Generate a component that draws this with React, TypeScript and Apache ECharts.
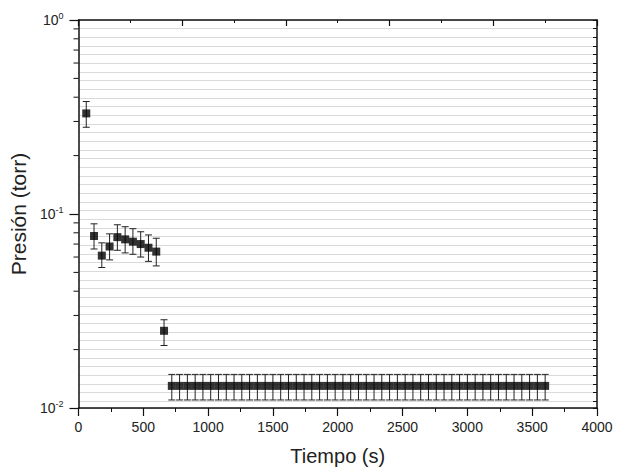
import React, { useEffect, useRef } from "react";
import * as echarts from "echarts";

// Time (s)
const times = [
  60, 120, 180, 240, 300, 360, 420, 480, 540, 600, 660,
  720, 780, 840, 900, 960, 1020, 1080, 1140, 1200, 1260, 1320, 1380, 1440, 1500,
  1560, 1620, 1680, 1740, 1800, 1860, 1920, 1980, 2040, 2100, 2160, 2220, 2280, 2340,
  2400, 2460, 2520, 2580, 2640, 2700, 2760, 2820, 2880, 2940, 3000, 3060, 3120, 3180,
  3240, 3300, 3360, 3420, 3480, 3540, 3600,
];
// Pressure (torr)
const pressures = [
  0.33, 0.077, 0.061, 0.068, 0.076, 0.074, 0.072, 0.070, 0.067, 0.064, 0.025,
  0.013, 0.013, 0.013, 0.013, 0.013, 0.013, 0.013, 0.013, 0.013, 0.013, 0.013, 0.013, 0.013, 0.013,
  0.013, 0.013, 0.013, 0.013, 0.013, 0.013, 0.013, 0.013, 0.013, 0.013, 0.013, 0.013, 0.013, 0.013,
  0.013, 0.013, 0.013, 0.013, 0.013, 0.013, 0.013, 0.013, 0.013, 0.013, 0.013, 0.013, 0.013, 0.013,
  0.013, 0.013, 0.013, 0.013, 0.013, 0.013, 0.013,
];
// Error bar upper ends
const errHigh = [
  0.38, 0.089, 0.071, 0.079, 0.088, 0.086, 0.084, 0.081, 0.078, 0.075, 0.0285,
  0.0149, 0.0149, 0.0149, 0.0149, 0.0149, 0.0149, 0.0149, 0.0149, 0.0149, 0.0149, 0.0149, 0.0149, 0.0149, 0.0149,
  0.0149, 0.0149, 0.0149, 0.0149, 0.0149, 0.0149, 0.0149, 0.0149, 0.0149, 0.0149, 0.0149, 0.0149, 0.0149, 0.0149,
  0.0149, 0.0149, 0.0149, 0.0149, 0.0149, 0.0149, 0.0149, 0.0149, 0.0149, 0.0149, 0.0149, 0.0149, 0.0149, 0.0149,
  0.0149, 0.0149, 0.0149, 0.0149, 0.0149, 0.0149, 0.0149,
];
// Error bar lower ends
const errLow = [
  0.28, 0.066, 0.053, 0.058, 0.065, 0.063, 0.062, 0.060, 0.057, 0.054, 0.021,
  0.011, 0.011, 0.011, 0.011, 0.011, 0.011, 0.011, 0.011, 0.011, 0.011, 0.011, 0.011, 0.011, 0.011,
  0.011, 0.011, 0.011, 0.011, 0.011, 0.011, 0.011, 0.011, 0.011, 0.011, 0.011, 0.011, 0.011, 0.011,
  0.011, 0.011, 0.011, 0.011, 0.011, 0.011, 0.011, 0.011, 0.011, 0.011, 0.011, 0.011, 0.011, 0.011,
  0.011, 0.011, 0.011, 0.011, 0.011, 0.011, 0.011,
];
// Log-axis minor tick values (2..9 per decade)
const logMinorTicks = [
  0.02, 0.03, 0.04, 0.05, 0.06, 0.07, 0.08, 0.09,
  0.2, 0.3, 0.4, 0.5, 0.6, 0.7, 0.8, 0.9,
];

const FONT = "Liberation Sans, Arial, sans-serif";
const AXIS_COLOR = "#111";

export default function App() {
  const ref = useRef<HTMLDivElement>(null);

  useEffect(() => {
    if (!ref.current) return;
    const chart = echarts.init(ref.current, undefined, { renderer: "svg" });

    const points = times.map((t, i) => [t, pressures[i]]);
    const bars = times.map((t, i) => [t, errLow[i], errHigh[i]]);
    const minorData = logMinorTicks.map((v) => [0, v]);

    const axisLine = { show: true, onZero: false, lineStyle: { color: AXIS_COLOR, width: 1.5 } };

    chart.setOption({
      animation: false,
      backgroundColor: "#fff",
      grid: { left: 76, right: 23, top: 20, bottom: 64 },
      xAxis: [
        {
          type: "value",
          min: 0,
          max: 4000,
          interval: 500,
          position: "bottom",
          axisLine,
          axisTick: { show: true, inside: false, length: 8, lineStyle: { color: AXIS_COLOR, width: 1.2 } },
          minorTick: { show: true, splitNumber: 2, length: 4, lineStyle: { color: AXIS_COLOR, width: 1 } },
          splitLine: { show: false },
          axisLabel: {
            margin: 12,
            color: "#222",
            fontSize: 14,
            fontFamily: FONT,
            formatter: (v: number) => String(v),
          },
          name: "Tiempo (s)",
          nameLocation: "middle",
          nameGap: 38,
          nameTextStyle: { fontSize: 20, color: "#222", fontFamily: FONT },
        },
        {
          type: "value",
          min: 0,
          max: 10,
          interval: 2,
          position: "top",
          axisLine,
          axisTick: { show: true, inside: true, length: 6, lineStyle: { color: AXIS_COLOR, width: 1.2 } },
          minorTick: { show: true, splitNumber: 2, length: 3, lineStyle: { color: AXIS_COLOR, width: 1 } },
          splitLine: { show: false },
          axisLabel: { show: false },
        },
      ],
      yAxis: [
        {
          type: "log",
          logBase: 10,
          min: 0.01,
          max: 1,
          position: "left",
          axisLine,
          axisTick: { show: true, inside: false, length: 9, lineStyle: { color: AXIS_COLOR, width: 1.2 } },
          minorTick: { show: false },
          splitLine: { show: false },
          axisLabel: {
            margin: 15,
            color: "#222",
            fontFamily: FONT,
            formatter: (v: number) => {
              const e = Math.round(Math.log10(v));
              return `{b|10}{s|${e}}`;
            },
            rich: {
              b: { fontSize: 14, fontFamily: FONT, color: "#222" },
              s: { fontSize: 9, fontFamily: FONT, color: "#222", padding: [0, 0, 9, 0] },
            },
          },
          name: "Presión (torr)",
          nameLocation: "middle",
          nameGap: 44,
          nameRotate: 90,
          nameTextStyle: { fontSize: 21, color: "#222", fontFamily: FONT },
        },
        {
          type: "value",
          min: 0,
          max: 44.8,
          interval: 1,
          inverse: true,
          position: "right",
          axisLine,
          axisTick: { show: true, inside: true, length: 4, lineStyle: { color: AXIS_COLOR, width: 1 } },
          axisLabel: { show: false },
          splitLine: { show: true, lineStyle: { color: "#dadada", width: 1 } },
        },
      ],
      series: [
        {
          type: "custom",
          xAxisIndex: 0,
          yAxisIndex: 0,
          silent: true,
          data: bars,
          encode: { x: 0, y: [1, 2] },
          renderItem: (params: any, api: any) => {
            const x = api.value(0);
            const lo = api.coord([x, api.value(1)]);
            const hi = api.coord([x, api.value(2)]);
            const hw = 3.5;
            const style = { stroke: "#222", lineWidth: 1 };
            return {
              type: "group",
              children: [
                { type: "line", shape: { x1: lo[0], y1: lo[1], x2: hi[0], y2: hi[1] }, style },
                { type: "line", shape: { x1: hi[0] - hw, y1: hi[1], x2: hi[0] + hw, y2: hi[1] }, style },
                { type: "line", shape: { x1: lo[0] - hw, y1: lo[1], x2: lo[0] + hw, y2: lo[1] }, style },
              ],
            };
          },
          z: 3,
        },
        {
          type: "scatter",
          xAxisIndex: 0,
          yAxisIndex: 0,
          data: points,
          symbol: "rect",
          symbolSize: 8,
          itemStyle: { color: "#000" },
          z: 4,
        },
        {
          type: "custom",
          xAxisIndex: 0,
          yAxisIndex: 0,
          silent: true,
          data: minorData,
          renderItem: (params: any, api: any) => {
            const p = api.coord([api.value(0), api.value(1)]);
            return {
              type: "line",
              shape: { x1: p[0] - 5, y1: p[1], x2: p[0], y2: p[1] },
              style: { stroke: AXIS_COLOR, lineWidth: 1 },
            };
          },
          z: 5,
        },
      ],
    });

    return () => chart.dispose();
  }, []);

  return (
    <div
      ref={ref}
      style={{ position: "absolute", left: 0, top: 0, width: 620, height: 472 }}
    />
  );
}
